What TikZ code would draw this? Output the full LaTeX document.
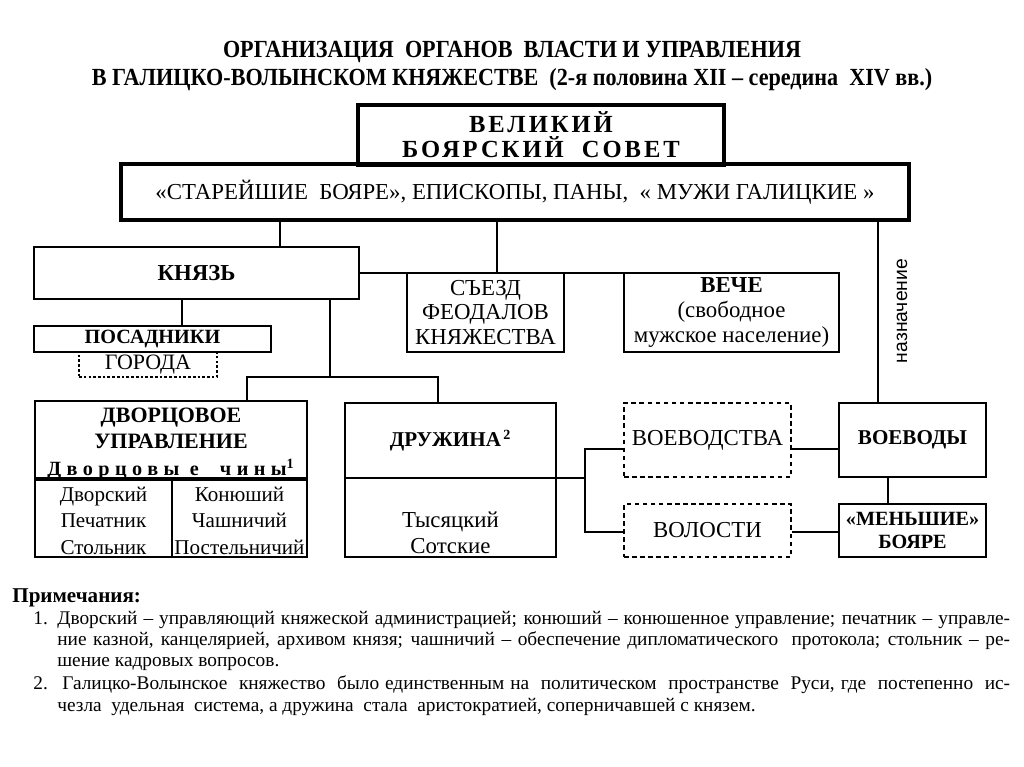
\documentclass[tikz,border=0pt]{standalone}
\usepackage{fontspec}
\setmainfont{Liberation Serif}
\newfontfamily\sansfont{Liberation Sans}
\newfontfamily\titlefont[FakeStretch=0.9]{Liberation Serif}

\tikzset{
  box/.style={draw, line width=0.9pt, inner sep=0pt, align=center},
  thickbox/.style={box, line width=2.4pt},
  dashbox/.style={box, dash pattern=on 2.6pt off 2pt},
  link/.style={line width=0.8pt},
  notetext/.style={anchor=base west, inner sep=0pt, font=\fontsize{11}{13}\selectfont},
}

\begin{document}
\begin{tikzpicture}[x=0.02cm, y=-0.02cm]
\useasboundingbox[fill=white] (0,0) rectangle (1024,767);

% Title
\node[align=center, font=\titlefont\bfseries\fontsize{14}{16}\selectfont] (titletext) at (512,66)
  {ОРГАНИЗАЦИЯ\ \ ОРГАНОВ\ \ ВЛАСТИ И УПРАВЛЕНИЯ\\
   В ГАЛИЦКО-ВОЛЫНСКОМ КНЯЖЕСТВЕ\ \ (2-я половина XII – середина\ \ XIV вв.)};

% Boyar council
\node[thickbox, minimum width=7.32cm, minimum height=1.2cm,
  font=\bfseries\fontsize{14}{14.2}\selectfont\addfontfeature{LetterSpace=12}] (velikiy) at (541,135)
  {\rule{0pt}{12pt}ВЕЛИКИЙ\\БОЯРСКИЙ\ \ СОВЕТ};
\node[thickbox, minimum width=15.76cm, minimum height=1.12cm, font=\fontsize{13}{15}\selectfont] (sostav) at (515,192)
  {«СТАРЕЙШИЕ\ \ БОЯРЕ», ЕПИСКОПЫ, ПАНЫ,\ \ « МУЖИ ГАЛИЦКИЕ »};

% Prince and assemblies
\node[box, line width=1.2pt, minimum width=6.5cm, minimum height=1.04cm, font=\bfseries\fontsize{13}{15}\selectfont] (knyaz) at (196.5,273) {КНЯЗЬ};
\node[box, minimum width=3.14cm, minimum height=1.58cm, font=\fontsize{13}{14.2}\selectfont] (sezd) at (485.5,312.5)
  {СЪЕЗД\\ФЕОДАЛОВ\\КНЯЖЕСТВА};
\node[box, minimum width=4.3cm, minimum height=1.58cm, font=\fontsize{13}{14.2}\selectfont] (veche) at (731.5,312.5)
  {\textbf{ВЕЧЕ}\\(свободное\\мужское население)};
\node[box, line width=0.7pt, dash pattern=on 1.5pt off 1.2pt, minimum width=2.76cm, minimum height=0.5cm,
  font=\fontsize{12.5}{14}\selectfont] (goroda) at (148,364.5) {ГОРОДА};
\node[box, minimum width=4.74cm, minimum height=0.52cm, font=\bfseries\fontsize{11.5}{13}\selectfont] (posad) at (152.5,339) {ПОСАДНИКИ};
\node[rotate=90, inner sep=0pt, font=\sansfont\fontsize{11}{13}\selectfont] (naznach) at (902,311) {назначение};

% Court and retinue
\node[box, line width=1.1pt, minimum width=5.44cm, minimum height=1.5cm, font=\bfseries\fontsize{12.5}{15.3}\selectfont] (dvorhead) at (171,440.5)
  {\rule{0pt}{12pt}ДВОРЦОВОЕ\\УПРАВЛЕНИЕ\\{\fontsize{11.5}{15.3}\selectfont\addfontfeature{LetterSpace=27}Дворцовы е\ \ чины\textsuperscript{1}}};
\node[box, line width=1.1pt, minimum width=2.74cm, minimum height=1.58cm, font=\fontsize{12}{15.3}\selectfont] (dvorL) at (103.5,517.5)
  {\rule{0pt}{12pt}Дворский\\Печатник\\Стольник};
\node[box, line width=1.1pt, minimum width=2.7cm, minimum height=1.58cm, font=\fontsize{12}{15.3}\selectfont] (dvorR) at (239.5,517.5)
  {\rule{0pt}{12pt}Конюший\\Чашничий\\Постельничий};
\node[box, line width=1.1pt, minimum width=4.22cm, minimum height=1.5cm, font=\bfseries\fontsize{12}{15.3}\selectfont] (druzhhead) at (450.5,440.5)
  {ДРУЖИНА\textsuperscript{\,2}};
\node[box, line width=1.1pt, minimum width=4.22cm, minimum height=1.58cm, font=\fontsize{13}{15.3}\selectfont] (druzhbody) at (450.5,517.5)
  {\rule{0pt}{11pt}\\Тысяцкий\\Сотские};

% Voivodes
\node[dashbox, minimum width=3.34cm, minimum height=1.48cm, font=\fontsize{13}{15}\selectfont] (voevodstva) at (707.5,440) {ВОЕВОДСТВА};
\node[dashbox, minimum width=3.34cm, minimum height=1.06cm, font=\fontsize{13}{15}\selectfont] (volosti) at (707.5,530.5) {ВОЛОСТИ};
\node[box, minimum width=2.94cm, minimum height=1.48cm, font=\bfseries\fontsize{12}{15}\selectfont] (voevody) at (912.5,440) {ВОЕВОДЫ};
\node[box, minimum width=2.94cm, minimum height=1.06cm, font=\bfseries\fontsize{11.5}{13}\selectfont] (menshie) at (912.5,530.5)
  {«МЕНЬШИЕ»\\БОЯРЕ};

% Connectors
\coordinate (fork) at (330,377);
\coordinate (split) at (585,478);
\draw[link] (sostav.south -| 280,0) -- (knyaz.north -| 280,0);
\draw[link] (sostav.south -| 497,0) -- (knyaz.east -| 497,0);
\draw[link] (knyaz.east) -- (knyaz.east -| veche.east);
\draw[link] (sostav.south -| 878,0) -- (voevody.north -| 878,0);
\draw[link] (knyaz.south -| 182,0) -- (posad.north -| 182,0);
\draw[link] (knyaz.south -| fork) -- (fork);
\draw[link] (dvorhead.north -| 247,0) |- (fork) -| (druzhhead.north -| 438,0);
\draw[link] (druzhhead.east |- split) -- (split);
\draw[link] (voevodstva.west |- 0,449) -| (split) |- (volosti.west |- 0,532);
\draw[link] (voevodstva.east |- 0,449) -- (voevody.west |- 0,449);
\draw[link] (volosti.east |- 0,532) -- (menshie.west |- 0,532);
\draw[link] (voevody.south -| 888,0) -- (menshie.north -| 888,0);

% Notes
\node[anchor=base west, inner sep=0pt, font=\bfseries\fontsize{12}{14}\selectfont] (prim) at (12,602) {Примечания:};
\node[notetext] (num1) at (33,624) {1.};
\node[notetext] (n1a) at (57,624)
  {\hbox to 19.06cm{Дворский – управляющий княжеской администрацией; конюший – конюшенное управление; печатник – управле-}};
\node[notetext] (n1b) at (57,645)
  {\hbox to 19.06cm{ние казной, канцелярией, архивом князя; чашничий – обеспечение дипломатического\ \ протокола; стольник – ре-}};
\node[notetext] (n1c) at (57,666) {шение кадровых вопросов.};
\node[notetext] (num2) at (33,689) {2.};
\node[notetext] (n2a) at (62,689)
  {\hbox to 18.96cm{Галицко-Волынское\ \ княжество\ \ было единственным на\ \ политическом\ \ пространстве\ \ Руси, где\ \ постепенно\ \ ис-}};
\node[notetext] (n2b) at (57,711) {чезла\ \ удельная\ \ система, а дружина\ \ стала\ \ аристократией, соперничавшей с князем.};
\end{tikzpicture}
\end{document}
